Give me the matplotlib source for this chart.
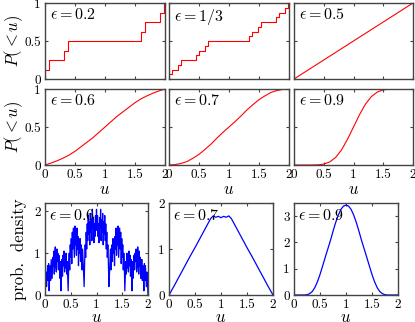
import numpy as np
import matplotlib
matplotlib.use("Agg")
import matplotlib.pyplot as plt

plt.rcParams['mathtext.fontset'] = 'cm'
plt.rcParams['font.family'] = ['cmr10', 'DejaVu Serif']
plt.rcParams['axes.unicode_minus'] = False

# ---------------- data ----------------
# CDF staircases (jump positions and levels after each jump)
jumps_02 = [0.0, 0.064, 0.32, 0.384, 1.6, 1.664, 1.92, 1.984]
levels_02 = [0.125, 0.25, 0.375, 0.5, 0.625, 0.75, 0.875, 1.0]

jumps_13 = [0.0, 0.049, 0.148, 0.198, 0.444, 0.494, 0.593, 0.642,
            1.333, 1.383, 1.481, 1.531, 1.778, 1.827, 1.926, 1.975]
levels_13 = [0.0625, 0.125, 0.1875, 0.25, 0.3125, 0.375, 0.4375, 0.5,
             0.5625, 0.625, 0.6875, 0.75, 0.8125, 0.875, 0.9375, 1.0]

u_05 = [0.0, 2.0]
cdf_05 = [0.0, 1.0]

u_cdf = [0.0, 0.1, 0.2, 0.3, 0.4, 0.5, 0.6, 0.7, 0.8, 0.9, 1.0,
         1.1, 1.2, 1.3, 1.4, 1.5, 1.6, 1.7, 1.8, 1.9, 2.0]
cdf_06 = [0.0, 0.025, 0.055, 0.09, 0.13, 0.18, 0.24, 0.30, 0.36, 0.43, 0.5,
          0.57, 0.64, 0.70, 0.76, 0.82, 0.87, 0.91, 0.945, 0.975, 1.0]
cdf_07 = [0.0, 0.005, 0.02, 0.045, 0.09, 0.14, 0.205, 0.275, 0.355, 0.43, 0.5,
          0.57, 0.645, 0.725, 0.795, 0.86, 0.91, 0.955, 0.98, 0.995, 1.0]
cdf_09 = [0.0, 0.0, 0.0, 0.0, 0.002, 0.012, 0.04, 0.1, 0.2, 0.34, 0.5,
          0.66, 0.8, 0.9, 0.96, 0.988, 0.998, 1.0, 1.0, 1.0, 1.0]

# densities (eps = 0.6 read on [0, 1] every 0.01; symmetric about u = 1)
dens_06_half = [0.0, 0.3, 0.55, 0.2, 0.45, 0.7, 0.35, 0.75, 0.1,
                0.45, 0.7, 0.35, 0.85, 0.6, 0.4, 0.9, 0.7, 1.05, 0.5,
                0.95, 1.15, 0.7, 0.55, 1.1, 0.8, 1.0, 0.6, 0.95, 0.75,
                0.4, 0.8, 0.1,
                0.6, 0.85, 0.45, 0.95, 0.7, 1.05, 0.55, 0.9, 0.65, 1.0,
                0.5, 0.8, 0.45, 0.1,
                0.7, 1.0, 0.6, 1.2, 0.9, 1.35, 0.75, 1.5, 1.1, 1.6,
                1.25, 0.9, 1.65, 1.2, 1.5, 0.95, 1.6, 1.1, 1.4, 0.7,
                1.3, 1.0, 1.35, 0.8, 1.2, 0.95, 0.6, 1.1, 0.8, 0.45, 0.2,
                0.8, 1.2, 0.9, 1.5, 1.1, 1.7, 1.3, 1.9, 1.45, 1.75,
                1.2, 1.95, 1.5, 1.8, 1.3, 2.05, 1.6, 1.85, 1.25, 1.7,
                1.4, 1.9, 1.55, 2.05]

u_d07 = [0.0, 0.1, 0.2, 0.3, 0.4, 0.5, 0.6, 0.7, 0.8, 0.85, 0.9, 0.95, 1.0,
         1.05, 1.1, 1.15, 1.2, 1.3, 1.4, 1.5, 1.6, 1.7, 1.8, 1.9, 2.0]
dens_07 = [0.0, 0.2, 0.41, 0.62, 0.83, 1.03, 1.24, 1.45, 1.66, 1.72, 1.69, 1.71, 1.68,
           1.71, 1.69, 1.72, 1.66, 1.45, 1.24, 1.03, 0.83, 0.62, 0.41, 0.2, 0.0]

u_d09 = [0.0, 0.1, 0.2, 0.25, 0.3, 0.35, 0.4, 0.45, 0.5, 0.55, 0.6, 0.65, 0.7,
         0.75, 0.8, 0.85, 0.9, 0.95, 1.0, 1.05, 1.1, 1.15, 1.2, 1.25, 1.3,
         1.35, 1.4, 1.45, 1.5, 1.55, 1.6, 1.65, 1.7, 1.75, 1.8, 1.9, 2.0]
dens_09 = [0.0, 0.0, 0.0, 0.01, 0.05, 0.13, 0.28, 0.5, 0.78, 1.1, 1.43, 1.75, 2.07,
           2.42, 2.75, 3.03, 3.25, 3.38, 3.42, 3.38, 3.25, 3.03, 2.75, 2.42, 2.07,
           1.75, 1.43, 1.1, 0.78, 0.5, 0.28, 0.13, 0.05, 0.01, 0.0, 0.0, 0.0]

xticks = [0, 0.5, 1, 1.5, 2]
xtick_labels = ['0', '0.5', '1', '1.5', '2']
cdf_yticks = [0, 0.5, 1]
cdf_ytick_labels = ['0', '0.5', '1']

# ---------------- figure ----------------
W, H = 415, 322
fig = plt.figure(figsize=(W / 100, H / 100), dpi=100)

FRAME = '#444444'


def ax_px(x0, y0, x1, y1):
    ax = fig.add_axes([x0 / W, 1 - y1 / H, (x1 - x0) / W, (y1 - y0) / H])
    for s in ax.spines.values():
        s.set_color(FRAME)
        s.set_linewidth(1.0)
    ax.tick_params(direction='in', top=True, right=True, length=2.5, width=0.8,
                   color=FRAME, labelsize=9.5, pad=3)
    return ax


cols = [(45, 165), (169, 289), (294, 413)]
rows = [(3, 79), (89, 165)]

cdf_specs = [
    [('stair', jumps_02, levels_02, r'$\epsilon = 0.2$'),
     ('stair', jumps_13, levels_13, r'$\epsilon = 1/3$'),
     ('line', u_05, cdf_05, r'$\epsilon = 0.5$')],
    [('line', u_cdf, cdf_06, r'$\epsilon = 0.6$'),
     ('line', u_cdf, cdf_07, r'$\epsilon = 0.7$'),
     ('line', u_cdf, cdf_09, r'$\epsilon = 0.9$')],
]

for r, (y0, y1) in enumerate(rows):
    for c, (x0, x1) in enumerate(cols):
        ax = ax_px(x0, y0, x1, y1)
        kind, xs, ys, lab = cdf_specs[r][c]
        if kind == 'stair':
            xx = np.concatenate([[0.0], xs, [2.0]])
            yy = np.concatenate([[0.0], ys, [1.0]])
            ax.plot(xx, yy, color='red', lw=0.8, drawstyle='steps-post')
        else:
            ax.plot(xs, ys, color='red', lw=0.8)
        ax.set_xlim(0, 2)
        ax.set_ylim(0, 1)
        ax.set_xticks(xticks)
        ax.set_yticks(cdf_yticks)
        if r == 1:
            ax.set_xticklabels(xtick_labels)
            ax.set_xlabel(r'$u$', fontsize=12, labelpad=0)
        else:
            ax.set_xticklabels([])
        if c == 0:
            ax.set_yticklabels(cdf_ytick_labels)
        else:
            ax.set_yticklabels([])
        ax.text(0.04, 0.95, lab, transform=ax.transAxes, fontsize=11.5,
                ha='left', va='top')

for (y0, y1) in rows:
    fig.text(14 / W, 1 - ((y0 + y1) / 2) / H, r'$P(<u)$', rotation=90,
             fontsize=12, ha='center', va='center')

# density row
dens_cols = [(45, 148), (169, 273), (294, 398)]
u_d06_half = np.linspace(0.0, 1.0, len(dens_06_half))
u_d06 = np.concatenate([u_d06_half, 2.0 - u_d06_half[-2::-1]])
dens_06 = np.concatenate([dens_06_half, dens_06_half[-2::-1]])
dens_specs = [
    (u_d06, dens_06, r'$\epsilon = 0.6$', 2.2, [0, 1, 2]),
    (u_d07, dens_07, r'$\epsilon = 0.7$', 2.0, [0, 1, 2]),
    (u_d09, dens_09, r'$\epsilon = 0.9$', 3.5, [0, 1, 2, 3]),
]
for (x0, x1), (xs, ys, lab, ymax, yt) in zip(dens_cols, dens_specs):
    ax = ax_px(x0, 203, x1, 295)
    ax.plot(xs, ys, color='blue', lw=0.9)
    ax.set_xlim(0, 2)
    ax.set_ylim(0, ymax)
    ax.set_xticks(xticks)
    ax.set_xticklabels(xtick_labels)
    ax.set_yticks(yt)
    ax.set_yticklabels([str(v) for v in yt])
    ax.set_xlabel(r'$u$', fontsize=12, labelpad=-1)
    ax.text(0.04, 0.95, lab, transform=ax.transAxes, fontsize=11.5,
            ha='left', va='top')

fig.text(19 / W, 1 - 249 / H, 'prob.  density', rotation=90,
         fontsize=12, ha='center', va='center')

fig.savefig('out.png', dpi=100)
